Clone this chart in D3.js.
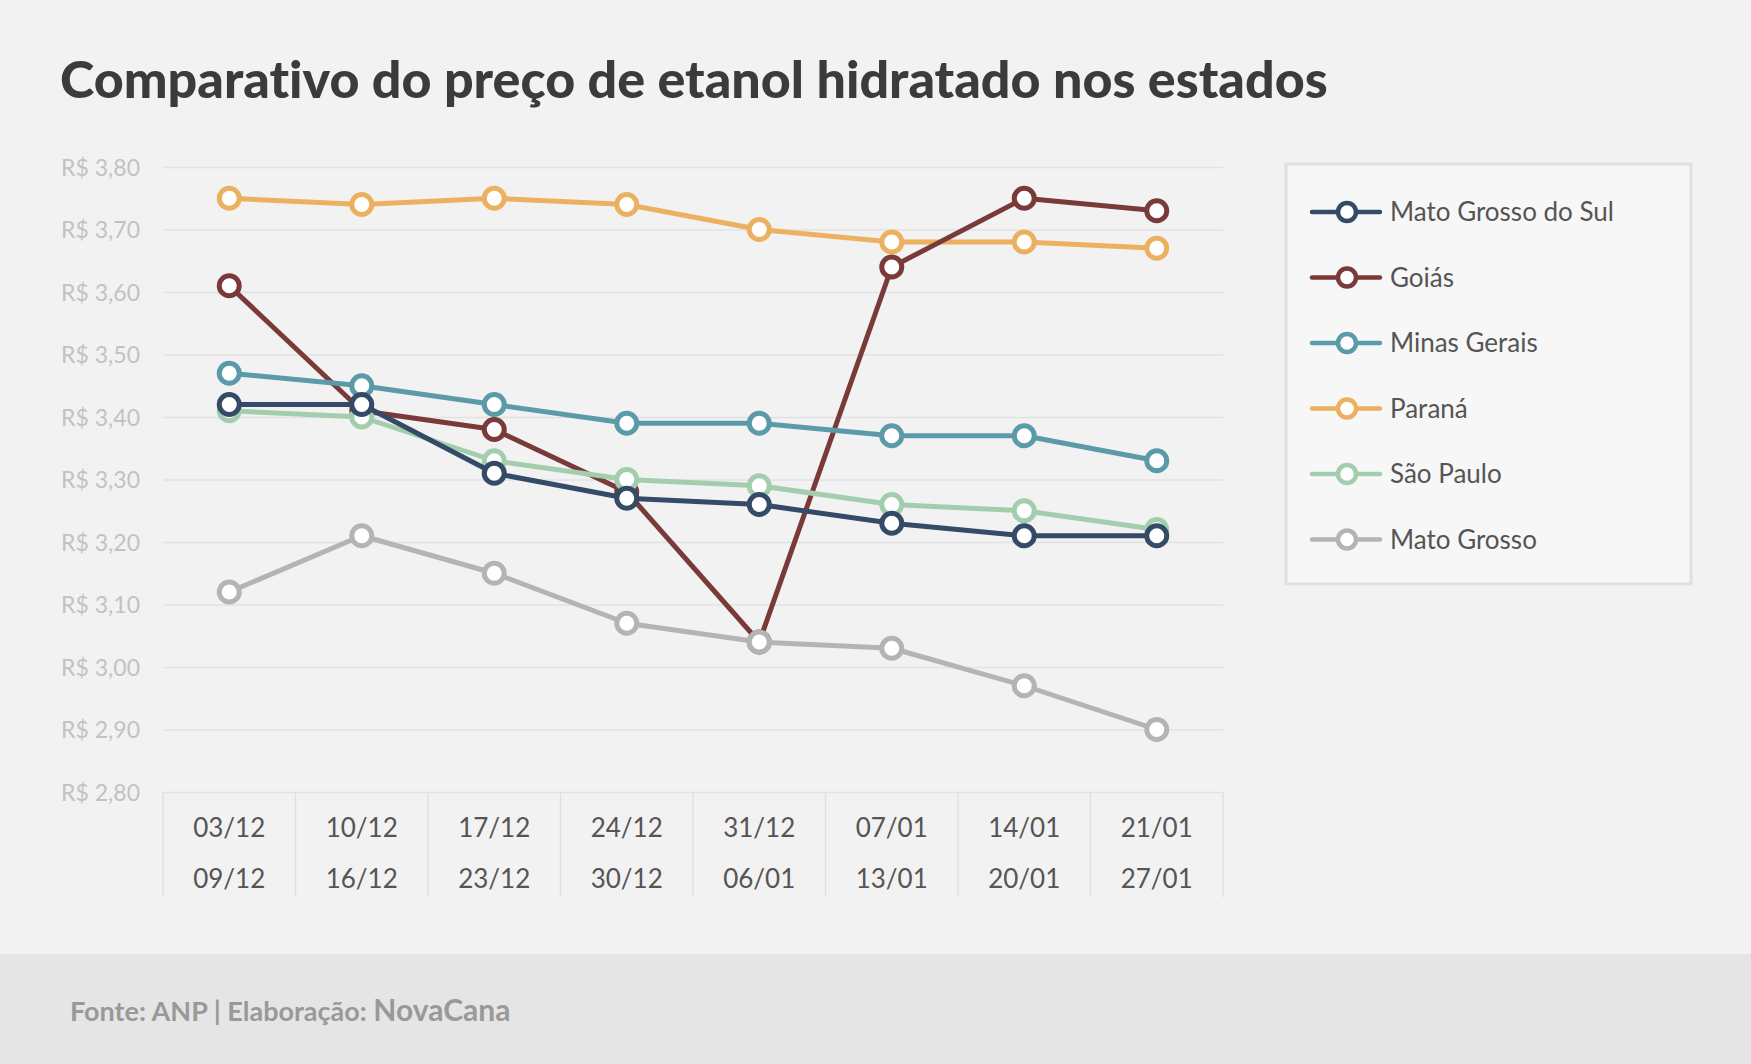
<!DOCTYPE html>
<meta charset="utf-8">
<head>
<style>
  body { margin: 0; background: #f2f2f2; }
  text { font-family: Lato, "Open Sans", sans-serif; font-variant-ligatures: none; }
</style>
</head>
<body>
<script src="https://d3js.org/d3.v7.min.js"></script>
<div id="chart"></div>
<script>
    // weeks (start / end of each week)
    var weekStart = ["03/12", "10/12", "17/12", "24/12", "31/12", "07/01", "14/01", "21/01"];
    var weekEnd   = ["09/12", "16/12", "23/12", "30/12", "06/01", "13/01", "20/01", "27/01"];

    // price per state, R$
    var matoGrossoDoSul = [3.42, 3.42, 3.31, 3.27, 3.26, 3.23, 3.21, 3.21];
    var goias           = [3.61, 3.41, 3.38, 3.28, 3.04, 3.64, 3.75, 3.73];
    var minasGerais     = [3.47, 3.45, 3.42, 3.39, 3.39, 3.37, 3.37, 3.33];
    var parana          = [3.75, 3.74, 3.75, 3.74, 3.70, 3.68, 3.68, 3.67];
    var saoPaulo        = [3.41, 3.40, 3.33, 3.30, 3.29, 3.26, 3.25, 3.22];
    var matoGrosso      = [3.12, 3.21, 3.15, 3.07, 3.04, 3.03, 2.97, 2.90];

    var yTicks = [2.8, 2.9, 3.0, 3.1, 3.2, 3.3, 3.4, 3.5, 3.6, 3.7, 3.8];

    var series = [
      {name: "Mato Grosso do Sul", values: matoGrossoDoSul, color: "#344a66"},
      {name: "Goiás",              values: goias,           color: "#7a3a3a"},
      {name: "Minas Gerais",       values: minasGerais,     color: "#5b9aa8"},
      {name: "Paraná",             values: parana,          color: "#ecb160"},
      {name: "São Paulo",          values: saoPaulo,        color: "#a3ceae"},
      {name: "Mato Grosso",        values: matoGrosso,      color: "#b4b4b4"}
    ];
    // order the lines are painted in (last one on top)
    var drawOrder = ["Paraná", "Goiás", "Minas Gerais", "São Paulo", "Mato Grosso", "Mato Grosso do Sul"];

    var W = 1751, H = 1064;
    var plotLeft = 163, plotRight = 1223, plotTop = 167, plotBottom = 792;

    var svg = d3.select("#chart")
      .append("svg")
        .attr("width", W)
        .attr("height", H);

    svg.append("rect").attr("width", W).attr("height", H).attr("fill", "#f2f2f2");
    // footer band
    svg.append("rect").attr("x", 0).attr("y", 954).attr("width", W).attr("height", H - 954).attr("fill", "#e5e5e5");

    svg.append("text")
      .attr("x", 60)
      .attr("y", 98)
      .attr("font-size", "52px")
      .attr("font-weight", 900)
      .attr("fill", "#3b3b3b")
      .text("Comparativo do preço de etanol hidratado nos estados");

    var x = d3.scaleBand()
      .domain(weekStart)
      .range([plotLeft, plotRight]);

    var y = d3.scaleLinear()
      .domain([2.8, 3.8])
      .range([plotBottom, plotTop]);

    var cx = function(i) { return x(weekStart[i]) + x.bandwidth() / 2; };

    // y axis + gridlines
    var yAxis = svg.append("g")
      .attr("transform", "translate(" + plotLeft + ",0)")
      .call(d3.axisLeft(y)
        .tickValues(yTicks)
        .tickSize(-(plotRight - plotLeft))
        .tickPadding(23)
        .tickFormat(function(d) { return "R$ " + d.toFixed(2).replace(".", ","); }));
    yAxis.select(".domain").remove();
    yAxis.selectAll(".tick line").attr("stroke", "#e2e2e2").attr("stroke-width", 1.5);
    yAxis.selectAll(".tick text")
      .attr("font-family", "Lato, sans-serif")
      .attr("font-size", "23px")
      .attr("fill", "#c2c2c2")
      .attr("dy", "0.36em");

    // x category separators
    var seps = weekStart.map(function(d) { return x(d); }).concat([plotRight]);
    svg.append("g").selectAll("line")
      .data(seps)
      .enter().append("line")
        .attr("x1", function(d) { return d; })
        .attr("x2", function(d) { return d; })
        .attr("y1", plotBottom)
        .attr("y2", 897)
        .attr("stroke", "#e0e0e0")
        .attr("stroke-width", 1.5);

    var xl = svg.append("g")
      .attr("font-size", "26px")
      .attr("fill", "#555")
      .attr("text-anchor", "middle");
    xl.selectAll(".s")
      .data(weekStart)
      .enter().append("text")
        .attr("x", function(d, i) { return cx(i); })
        .attr("y", 837)
        .text(function(d) { return d; });
    xl.selectAll(".e")
      .data(weekEnd)
      .enter().append("text")
        .attr("x", function(d, i) { return cx(i); })
        .attr("y", 888)
        .text(function(d) { return d; });

    var line = d3.line()
      .x(function(d, i) { return cx(i); })
      .y(function(d) { return y(d); });

    var ordered = drawOrder.map(function(n) { return series.find(function(s) { return s.name == n; }); });

    var g = svg.append("g").selectAll("g")
      .data(ordered)
      .enter().append("g");

    g.append("path")
      .attr("d", function(d) { return line(d.values); })
      .attr("fill", "none")
      .attr("stroke", function(d) { return d.color; })
      .attr("stroke-width", 5)
      .attr("stroke-linejoin", "round");

    g.selectAll("circle")
      .data(function(d) { return d.values.map(function(v) { return {v: v, color: d.color}; }); })
      .enter().append("circle")
        .attr("cx", function(d, i) { return cx(i); })
        .attr("cy", function(d) { return y(d.v); })
        .attr("r", 10)
        .attr("fill", "#fff")
        .attr("stroke", function(d) { return d.color; })
        .attr("stroke-width", 5);

    // legend
    var legend = svg.append("g");
    legend.append("rect")
      .attr("x", 1286)
      .attr("y", 164)
      .attr("width", 405)
      .attr("height", 420)
      .attr("fill", "#f7f7f7")
      .attr("stroke", "#e0e0e0")
      .attr("stroke-width", 3);

    var item = legend.selectAll(".item")
      .data(series)
      .enter().append("g")
        .attr("transform", function(d, i) { return "translate(0," + (212 + i * 65.5) + ")"; });
    item.append("line")
      .attr("x1", 1312).attr("x2", 1380)
      .attr("stroke", function(d) { return d.color; })
      .attr("stroke-width", 4.5)
      .attr("stroke-linecap", "round");
    item.append("circle")
      .attr("cx", 1347)
      .attr("r", 9)
      .attr("fill", "#fff")
      .attr("stroke", function(d) { return d.color; })
      .attr("stroke-width", 4.5);
    item.append("text")
      .attr("x", 1390)
      .attr("y", 9)
      .attr("font-size", "26px")
      .attr("fill", "#555")
      .text(function(d) { return d.name; });

    // source
    var src = svg.append("text")
      .attr("x", 70)
      .attr("y", 1021)
      .attr("fill", "#999")
      .attr("font-weight", 700)
      .attr("font-size", "27px");
    src.append("tspan").text("Fonte: ANP | Elaboração: ");
    src.append("tspan").attr("font-size", "30px").text("NovaCana");
</script>
</body>
